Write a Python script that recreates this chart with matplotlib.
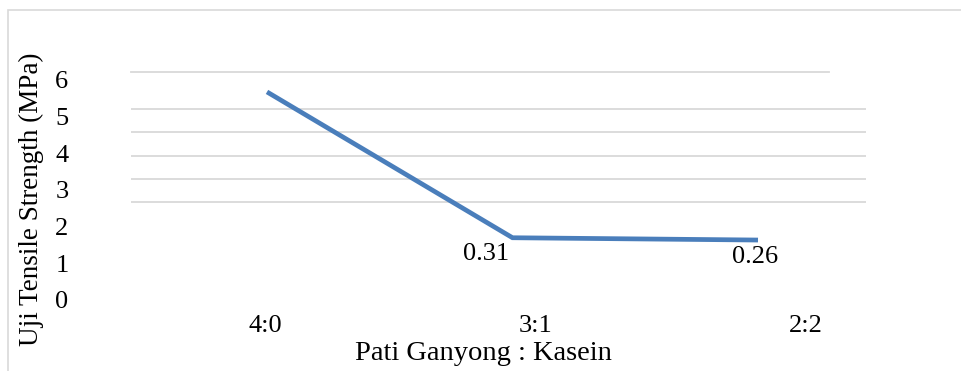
import matplotlib
matplotlib.use("Agg")
import matplotlib.pyplot as plt
from matplotlib.patches import Rectangle

# Data
ratios = ["4:0", "3:1", "2:2"]
tensile = [3.48, 0.31, 0.26]
value_labels = [None, "0.31", "0.26"]
y_tick_values = [0, 1, 2, 3, 4, 5, 6]
y_label = "Uji Tensile Strength (MPa)"
x_label = "Pati Ganyong : Kasein"

W, H = 961, 371
plt.rcParams["font.family"] = ["Liberation Serif", "DejaVu Serif"]
TICK_FS = 19
LABEL_FS = 20.5

fig = plt.figure(figsize=(W / 100, H / 100), dpi=100)

# outer chart frame
fig.patches.append(Rectangle((8 / W, -0.05), 1.2, (H - 10) / H + 0.05,
                             transform=fig.transFigure, fill=False,
                             edgecolor="#D9D9D9", linewidth=1.2))

left, right, top, bottom = 131, 866, 72, 300
rect = [left / W, (H - bottom) / H, (right - left) / W, (bottom - top) / H]
ax = fig.add_axes(rect)
ax.set_facecolor("none")
for s in ax.spines.values():
    s.set_visible(False)

# value axis labels
ax.set_ylim(0, (bottom - top) / 36.67)
ax.set_yticks(y_tick_values)
ax.set_yticklabels([str(v) for v in y_tick_values], fontsize=TICK_FS)
ax.tick_params(axis="y", length=0, pad=45)

# category axis labels
ax.set_xlim(-(265 - left) / 270.5, 2 + (right - 806) / 270.5)
ax.set_xticks(range(len(ratios)))
ax.set_xticklabels(ratios, fontsize=TICK_FS)
ax.tick_params(axis="x", length=0, pad=11)

# horizontal gridlines
grid_fracs = [(bottom - y) / (bottom - top) for y in (202, 179, 155.5, 132, 109)]
for f in grid_fracs:
    ax.plot([0, 1], [f, f], color="#D9D9D9", lw=1.3, transform=ax.transAxes)
ax.plot([0, 0.9497], [0.998, 0.998], color="#D9D9D9", lw=1.3,
        transform=ax.transAxes, clip_on=False)

# series drawn on its own value scale
ax2 = fig.add_axes(rect, label="series")
ax2.set_facecolor("none")
ax2.axis("off")
ax2.set_ylim(-48 / 46, (252 - top) / 46)
ax2.set_xlim(-(267 - left) / 245.5, 2 + (right - 758) / 245.5)
xs = list(range(len(ratios)))
ax2.plot(xs, tensile, color="#4A7EBB", lw=3.4, solid_capstyle="butt",
         solid_joinstyle="miter")

offsets = [(0, 0), (-19, -12), (-2, -12)]
for x, v, lab, off in zip(xs, tensile, value_labels, offsets):
    if lab:
        ax2.annotate(lab, (x, v), xytext=off, textcoords="offset points",
                     ha="center", va="center", fontsize=TICK_FS)

fig.text(483 / W, (H - 353) / H, x_label, ha="center", va="center", fontsize=LABEL_FS)
fig.text(31 / W, (H - 199) / H, y_label, ha="center", va="center",
         rotation=90, fontsize=19.5)

fig.savefig("out.png", dpi=100)
